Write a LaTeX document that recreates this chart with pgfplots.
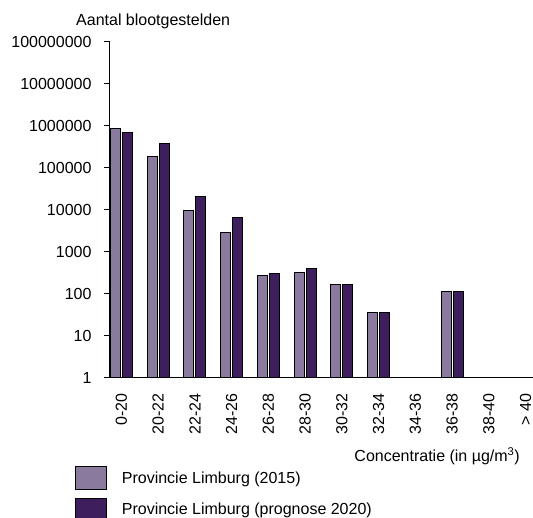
\documentclass[border=0pt]{standalone}
\usepackage{pgfplots}
\pgfplotsset{compat=1.18}
\usepackage{fontspec}
\setmainfont{Liberation Sans}
\definecolor{lightbar}{RGB}{138,122,158}
\definecolor{darkbar}{RGB}{62,30,92}
\begin{document}
\fontsize{16}{19}\selectfont
\begin{tikzpicture}
\useasboundingbox (0,0) rectangle (533pt,517pt);
\begin{axis}[
  at={(110pt,139pt)}, anchor=south west,
  scale only axis, width=423pt, height=336pt,
  ymode=log, ymin=1, ymax=1e8,
  xmin=-0.312, xmax=11.2,
  axis x line*=bottom, axis y line*=left,
  ytick={1,10,100,1000,10000,100000,1000000,10000000,100000000},
  yticklabels={1,10,100,1000,10000,100000,1000000,10000000,100000000},
  yminorticks=false,
  yticklabel shift=7pt,
  xtick={0,1,2,3,4,5,6,7,8,9,10,11},
  xticklabels={0-20,20-22,22-24,24-26,26-28,28-30,30-32,32-34,34-36,36-38,38-40,> 40},
  x tick label style={rotate=90, anchor=east},
  xticklabel shift=4pt,
  x tick style={draw=none},
  y tick style={black, line width=1pt},
  tick align=outside, major tick length=6pt,
  axis line style={black, line width=1pt},
  ybar=2pt, bar width=10pt,
  clip=false,
]
\addplot[draw=black, line width=1pt, fill=lightbar] coordinates {
(0,881000) (1,193000) (2,9640) (3,2940) (4,273) (5,322) (6,167) (7,36) (8,1.05) (9,114) (10,1.05) (11,1.05)};
\addplot[draw=black, line width=1pt, fill=darkbar] coordinates {
(0,692000) (1,379000) (2,21500) (3,6810) (4,316) (5,394) (6,167) (7,36) (8,1.05) (9,114) (10,1.05) (11,1.05)};
\end{axis}
\node[anchor=base west, inner sep=0pt] at (76pt,491pt) {Aantal blootgestelden};
\node[anchor=base east, inner sep=0pt] at (520pt,55pt) {Concentratie (in µg/m\textsuperscript{3})};
\fill[lightbar, draw=black, line width=0.8pt] (75pt,28pt) rectangle (106pt,50.3pt);
\fill[darkbar, draw=black, line width=0.8pt] (75pt,-3.6pt) rectangle (106pt,18.7pt);
\node[anchor=base west, inner sep=0pt] at (121.7pt,33.5pt) {Provincie Limburg (2015)};
\node[anchor=base west, inner sep=0pt] at (121.7pt,2pt) {Provincie Limburg (prognose 2020)};
\end{tikzpicture}
\end{document}
